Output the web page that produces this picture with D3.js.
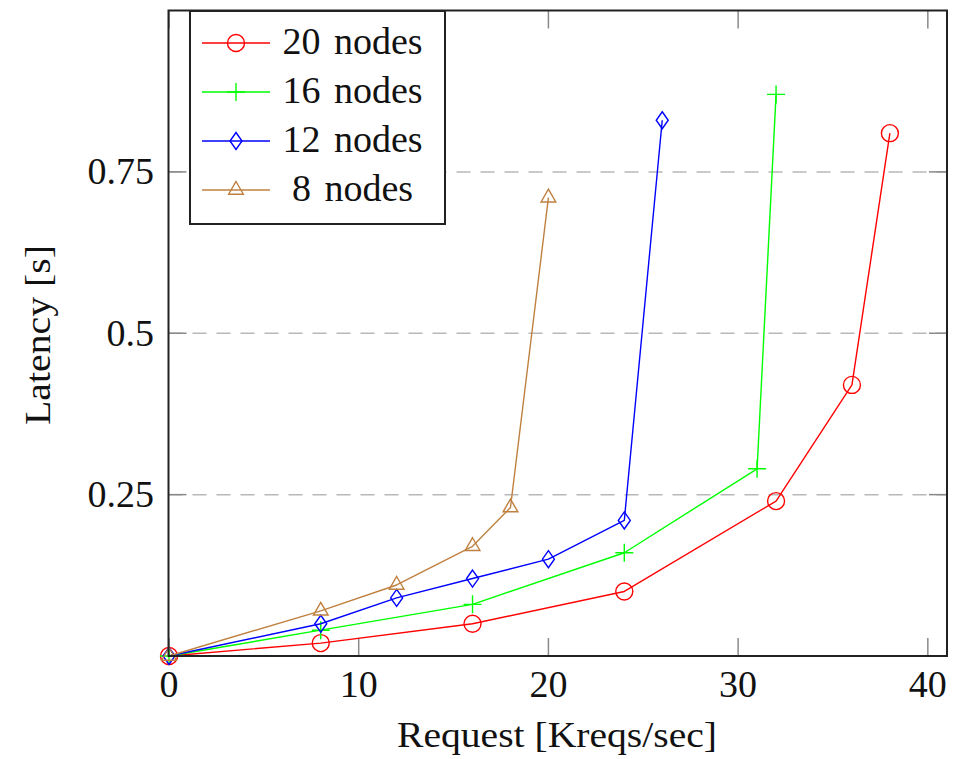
<!DOCTYPE html>
<html>
<head>
<meta charset="utf-8">
<script src="https://cdn.jsdelivr.net/npm/d3@7"></script>
<style>
  html, body { margin: 0; padding: 0; background: #fff; }
  svg { display: block; }
  text { font-family: "Liberation Serif", "DejaVu Serif", serif; fill: #111; }
</style>
</head>
<body>
<svg id="chart" width="955" height="759"></svg>
<script>
// ---- data ----
const seriesNames = ["20 nodes", "16 nodes", "12 nodes", "8 nodes"];
const req20 = [0, 8, 16, 24, 32, 36, 38];
const lat20 = [0, 0.02, 0.05, 0.10, 0.24, 0.42, 0.81];
const req16 = [0, 8, 16, 24, 31, 32];
const lat16 = [0, 0.04, 0.08, 0.16, 0.29, 0.87];
const req12 = [0, 8, 12, 16, 20, 24, 26];
const lat12 = [0, 0.05, 0.09, 0.12, 0.15, 0.21, 0.83];
const req8 = [0, 8, 12, 16, 18, 20];
const lat8 = [0, 0.07, 0.11, 0.17, 0.23, 0.71];
const xTicks = [0, 10, 20, 30, 40];
const yTicks = [0.25, 0.5, 0.75];
const yTickLabels = ["0.25", "0.5", "0.75"];
const xLabel = "Request [Kreqs/sec]";
const yLabel = "Latency [s]";

// ---- layout ----
const L = 168.5, R = 947, T = 10.5, B = 656;
const svg = d3.select("#chart");
const x = d3.scaleLinear().domain([0, 41]).range([169, 946.8]);
const y = d3.scaleLinear().domain([0, 1]).range([B, T]);

const colors = ["#ff0000", "#00ff00", "#0000ff", "#bf8040"];
const markers = ["circle", "plus", "diamond", "triangle"];
const series = [
  {name: seriesNames[0], xs: req20, ys: lat20},
  {name: seriesNames[1], xs: req16, ys: lat16},
  {name: seriesNames[2], xs: req12, ys: lat12},
  {name: seriesNames[3], xs: req8, ys: lat8},
];

// grid
svg.append("g").selectAll("line").data(yTicks).join("line")
  .attr("x1", L).attr("x2", R)
  .attr("y1", d => y(d)).attr("y2", d => y(d))
  .attr("stroke", "#b8b8b8").attr("stroke-width", 1.5)
  .attr("stroke-dasharray", "14,10");

// ticks (inward, gray, all four sides)
const tickLen = 18;
const tg = svg.append("g").attr("stroke", "#8a8a8a").attr("stroke-width", 1.5);
tg.selectAll(".xb").data(xTicks).join("line").attr("class", "xb")
  .attr("x1", d => x(d)).attr("x2", d => x(d)).attr("y1", B).attr("y2", B - tickLen);
tg.selectAll(".xt").data(xTicks).join("line").attr("class", "xt")
  .attr("x1", d => x(d)).attr("x2", d => x(d)).attr("y1", T).attr("y2", T + tickLen);
tg.selectAll(".yl").data(yTicks).join("line").attr("class", "yl")
  .attr("x1", L).attr("x2", L + tickLen).attr("y1", d => y(d)).attr("y2", d => y(d));
tg.selectAll(".yr").data(yTicks).join("line").attr("class", "yr")
  .attr("x1", R - tickLen).attr("x2", R).attr("y1", d => y(d)).attr("y2", d => y(d));

// marker path generator
function markerPath(type) {
  switch (type) {
    case "circle": return d3.symbol().type(d3.symbolCircle).size(Math.PI * 8.5 * 8.5)();
    case "plus": return "M-9,0H9M0,-9V9";
    case "diamond": return "M0,-8.5L6,0L0,8.5L-6,0Z";
    case "triangle": {
      const r = 8.5, c = r * Math.cos(Math.PI / 6);
      return `M0,${-r}L${c},${r / 2}L${-c},${r / 2}Z`;
    }
  }
}

const line = d3.line().x(d => x(d[0])).y(d => y(d[1]));
series.forEach((s, i) => {
  const pts = s.xs.map((v, j) => [v, s.ys[j]]);
  const g = svg.append("g");
  g.append("path").datum(pts).attr("d", line)
    .attr("fill", "none").attr("stroke", colors[i]).attr("stroke-width", 1.4)
    .attr("stroke-linejoin", "round");
  g.selectAll("path.m").data(pts).join("path").attr("class", "m")
    .attr("d", markerPath(markers[i]))
    .attr("transform", d => `translate(${x(d[0])},${y(d[1])})`)
    .attr("fill", "none").attr("stroke", colors[i]).attr("stroke-width", 1.4);
});

// frame
svg.append("rect").attr("x", L).attr("y", T).attr("width", R - L).attr("height", B - T)
  .attr("fill", "none").attr("stroke", "#222").attr("stroke-width", 2);

// tick labels
svg.append("g").selectAll("text").data(xTicks).join("text")
  .attr("x", d => x(d)).attr("y", 697).attr("text-anchor", "middle")
  .attr("font-size", 38).text(d => d);
svg.append("g").selectAll("text").data(yTicks).join("text")
  .attr("x", 154).attr("y", d => y(d) + 12.5).attr("text-anchor", "end")
  .attr("font-size", 38).text((d, i) => yTickLabels[i]);

// axis labels
svg.append("text").attr("x", 557).attr("y", 747).attr("text-anchor", "middle")
  .attr("font-size", 36).attr("textLength", 320).attr("lengthAdjust", "spacingAndGlyphs")
  .text(xLabel);
svg.append("text").attr("transform", "translate(50,335) rotate(-90)")
  .attr("text-anchor", "middle").attr("font-size", 36)
  .attr("textLength", 180).attr("lengthAdjust", "spacingAndGlyphs")
  .text(yLabel);

// legend
const lg = svg.append("g");
lg.append("rect").attr("x", 190).attr("y", 11).attr("width", 255).attr("height", 213)
  .attr("fill", "#fff").attr("stroke", "#222").attr("stroke-width", 2);
const rowY = [43, 92, 141, 190];
series.forEach((s, i) => {
  const yy = rowY[i];
  lg.append("line").attr("x1", 202).attr("x2", 270).attr("y1", yy).attr("y2", yy)
    .attr("stroke", colors[i]).attr("stroke-width", 1.4);
  lg.append("path").attr("d", markerPath(markers[i]))
    .attr("transform", `translate(236,${yy})`)
    .attr("fill", "none").attr("stroke", colors[i]).attr("stroke-width", 1.4);
  lg.append("text").attr("x", 352.5).attr("y", yy + 11).attr("text-anchor", "middle")
    .attr("font-size", 38).attr("word-spacing", 4).text(s.name);
});
</script>
</body>
</html>
